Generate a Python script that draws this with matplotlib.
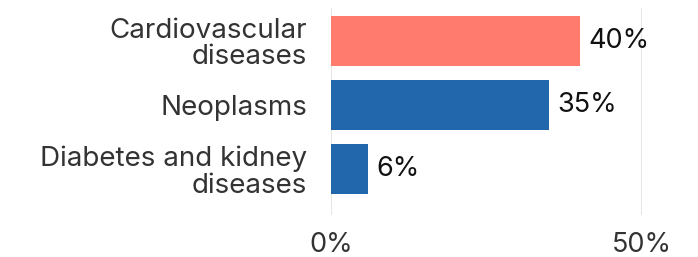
import matplotlib
matplotlib.use("Agg")
import matplotlib.pyplot as plt

categories = ["Cardiovascular\ndiseases", "Neoplasms", "Diabetes and kidney\ndiseases"]
values = [40, 35, 6]
colors = ["#ff7b6e", "#2267ac", "#2267ac"]
xticks = [0, 50]

plt.rcParams['font.family'] = ['Inter', 'DejaVu Sans']

fig = plt.figure(figsize=(6.98, 2.57), dpi=100)
ax = fig.add_axes([331/698, 1-215/257, (642-331)/698, (215-8)/257])

y = list(range(len(categories)))
ax.barh(y, values, height=0.78, color=colors)
for yi, v in zip(y, values):
    ax.annotate(f"{v}%", (v, yi), xytext=(6, 0), textcoords="offset points",
                va="center", ha="left", fontsize=19.5, color="#111111")

ax.set_xlim(0, 50)
ax.set_ylim(2.72, -0.516)
ax.set_yticks(y)
ax.set_yticklabels(categories, fontsize=20, color="#333333", linespacing=1.02)
ax.set_xticks(xticks)
ax.set_xticklabels([f"{t}%" for t in xticks], fontsize=19.5, color="#333333")
ax.tick_params(axis="y", length=0, pad=17)
ax.tick_params(axis="x", length=0, pad=12)
for s in ax.spines.values():
    s.set_visible(False)
ax.grid(axis="x", color="#e6e6e6", linewidth=1.5)
ax.set_axisbelow(True)

fig.savefig("out.png", dpi=100)
